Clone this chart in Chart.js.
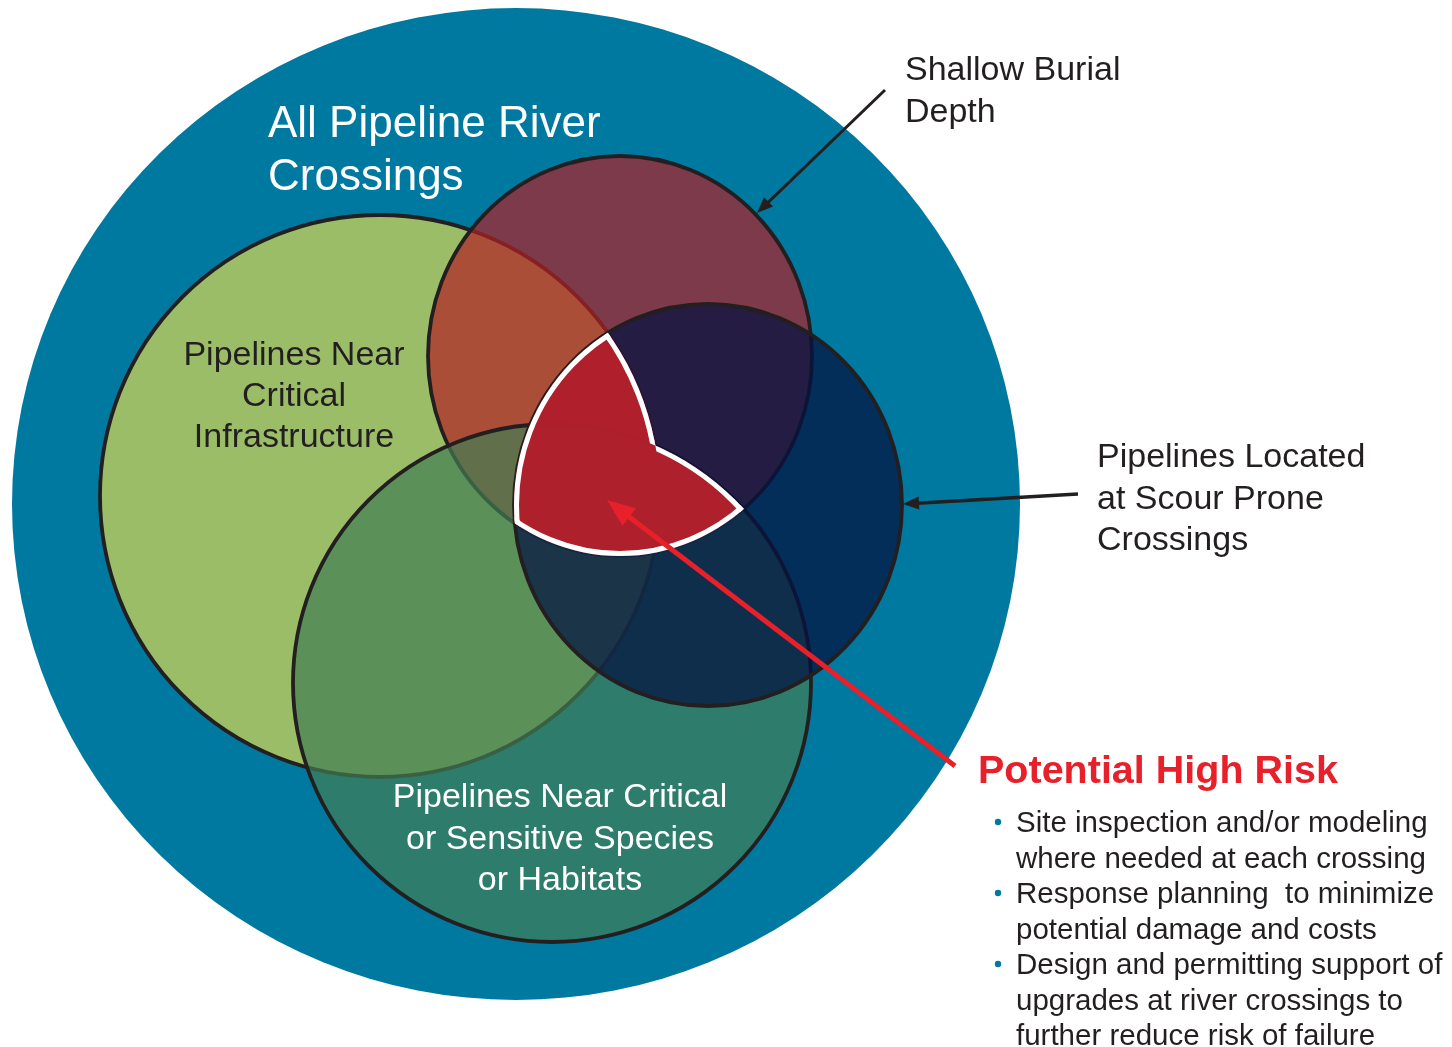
<!DOCTYPE html>
<html>
<head>
<meta charset="utf-8">
<script src="https://cdn.jsdelivr.net/npm/chart.js@4.4.1/dist/chart.umd.min.js"></script>
<style>
  html, body { margin: 0; padding: 0; background: #ffffff; }
  canvas { display: block; }
</style>
</head>
<body>
<canvas id="vennChart" width="1452" height="1047"></canvas>
<script>
// Set names (drawing order: outer set first)
const setNames = [
    'All Pipeline River Crossings',
    'Pipelines Near Critical Infrastructure',
    'Shallow Burial Depth',
    'Pipelines Near Critical or Sensitive Species or Habitats',
    'Pipelines Located at Scour Prone Crossings'
];
// Ellipse centres and radii, in chart units
const centerX = [516, 380, 620, 552, 708];
const centerY = [504, 496, 356, 683, 505];
const radiusX = [504, 280, 192, 259, 194];
const radiusY = [496, 281, 200, 259, 201];

// Callout arrows: [fromX, fromY, toX, toY]
const shallowArrow = [885, 90, 757, 213];
const scourArrow = [1078, 494, 903, 504];
const riskArrow = [955, 766, 607, 500];

const riskBullets = [
    ['Site inspection and/or modeling', 'where needed at each crossing'],
    ['Response planning  to minimize', 'potential damage and costs'],
    ['Design and permitting support of', 'upgrades at river crossings to', 'further reduce risk of failure']
];

const fillColors = ['#0079A0', '#9CBD67', 'rgba(178,31,37,0.7)', 'rgba(66,126,84,0.7)', 'rgba(4,18,64,0.73)'];
const edgeColor = '#231F20';
const FONT = '"Liberation Sans", Arial, sans-serif';

// Ellipse in pixel space, via the chart scales
function shape(chart, i) {
    const xs = chart.scales.x, ys = chart.scales.y;
    const cx = xs.getPixelForValue(centerX[i]);
    const cy = ys.getPixelForValue(centerY[i]);
    return {
        cx: cx,
        cy: cy,
        rx: Math.abs(xs.getPixelForValue(centerX[i] + radiusX[i]) - cx),
        ry: Math.abs(ys.getPixelForValue(centerY[i] + radiusY[i]) - cy)
    };
}

function addEllipse(ctx, s) {
    ctx.moveTo(s.cx + s.rx, s.cy);
    ctx.ellipse(s.cx, s.cy, s.rx, s.ry, 0, 0, Math.PI * 2);
}

function clipRisk(ctx, chart) {
    // shallow ∩ scour ∩ (infrastructure ∪ species)
    ctx.beginPath(); addEllipse(ctx, shape(chart, 4)); ctx.clip();
    ctx.beginPath(); addEllipse(ctx, shape(chart, 2)); ctx.clip();
    ctx.beginPath(); addEllipse(ctx, shape(chart, 1)); addEllipse(ctx, shape(chart, 3)); ctx.clip();
}

function clipOutside(ctx, chart, i) {
    ctx.beginPath();
    ctx.rect(0, 0, chart.width, chart.height);
    addEllipse(ctx, shape(chart, i));
    ctx.clip('evenodd');
}

function arrow(ctx, chart, a, color, width, headLen, headW) {
    const xs = chart.scales.x, ys = chart.scales.y;
    const x1 = xs.getPixelForValue(a[0]), y1 = ys.getPixelForValue(a[1]);
    const x2 = xs.getPixelForValue(a[2]), y2 = ys.getPixelForValue(a[3]);
    const ang = Math.atan2(y2 - y1, x2 - x1);
    const bx = x2 - Math.cos(ang) * headLen, by = y2 - Math.sin(ang) * headLen;
    ctx.save();
    ctx.strokeStyle = color;
    ctx.fillStyle = color;
    ctx.lineWidth = width;
    ctx.beginPath();
    ctx.moveTo(x1, y1);
    ctx.lineTo(bx + Math.cos(ang) * 2, by + Math.sin(ang) * 2);
    ctx.stroke();
    ctx.beginPath();
    ctx.moveTo(x2, y2);
    ctx.lineTo(bx + Math.sin(ang) * headW / 2, by - Math.cos(ang) * headW / 2);
    ctx.lineTo(bx - Math.sin(ang) * headW / 2, by + Math.cos(ang) * headW / 2);
    ctx.closePath();
    ctx.fill();
    ctx.restore();
}

function lines(ctx, list, x, y0, step, align) {
    ctx.textAlign = align;
    list.forEach((t, i) => ctx.fillText(t, x, y0 + i * step));
}

const vennPlugin = {
    id: 'venn',
    beforeDatasetsDraw(chart) {
        const ctx = chart.ctx;
        ctx.save();
        for (let i = 0; i < setNames.length; i++) {
            const s = shape(chart, i);
            ctx.beginPath();
            addEllipse(ctx, s);
            ctx.fillStyle = fillColors[i];
            ctx.fill();
            if (i > 0) {
                ctx.lineWidth = 3.8;
                ctx.strokeStyle = edgeColor;
                ctx.stroke();
            }
        }
        ctx.restore();

        // Potential high risk zone
        ctx.save();
        clipRisk(ctx, chart);
        ctx.fillStyle = 'rgba(180,32,44,0.96)';
        ctx.fillRect(0, 0, chart.width, chart.height);
        ctx.restore();

        ctx.lineWidth = 10;
        ctx.strokeStyle = '#ffffff';
        [[4, null], [2, null], [1, 3], [3, 1]].forEach(([edge, outside]) => {
            ctx.save();
            clipRisk(ctx, chart);
            if (outside !== null) clipOutside(ctx, chart, outside);
            ctx.beginPath();
            addEllipse(ctx, shape(chart, edge));
            ctx.stroke();
            ctx.restore();
        });
    },
    afterDatasetsDraw(chart) {
        const ctx = chart.ctx;
        ctx.save();
        ctx.textBaseline = 'alphabetic';

        ctx.fillStyle = '#ffffff';
        ctx.font = '44px ' + FONT;
        lines(ctx, ['All Pipeline River', 'Crossings'], 268, 137, 53, 'left');

        ctx.fillStyle = edgeColor;
        ctx.font = '34px ' + FONT;
        lines(ctx, ['Pipelines Near', 'Critical', 'Infrastructure'], 294, 365, 41, 'center');

        ctx.fillStyle = '#ffffff';
        lines(ctx, ['Pipelines Near Critical', 'or Sensitive Species', 'or Habitats'], 560, 807, 41.5, 'center');

        ctx.fillStyle = edgeColor;
        lines(ctx, ['Shallow Burial', 'Depth'], 905, 80, 42, 'left');
        lines(ctx, ['Pipelines Located', 'at Scour Prone', 'Crossings'], 1097, 467, 41.5, 'left');

        arrow(ctx, chart, shallowArrow, edgeColor, 3, 16, 13);
        arrow(ctx, chart, scourArrow, edgeColor, 3.5, 16, 13);
        arrow(ctx, chart, riskArrow, '#E8202A', 5, 28, 22);

        ctx.fillStyle = '#E8202A';
        ctx.font = 'bold 39.5px ' + FONT;
        ctx.textAlign = 'left';
        ctx.fillText('Potential High Risk', 978, 783);

        ctx.font = '29.5px ' + FONT;
        let y = 832;
        riskBullets.forEach(item => {
            ctx.fillStyle = '#0079A0';
            ctx.beginPath();
            ctx.arc(998, y - 10, 3.2, 0, Math.PI * 2);
            ctx.fill();
            ctx.fillStyle = edgeColor;
            item.forEach(t => {
                ctx.fillText(t, 1016, y);
                y += 35.5;
            });
        });
        ctx.restore();
    }
};

new Chart(document.getElementById('vennChart'), {
    type: 'scatter',
    data: {
        datasets: [{
            label: 'Set centres',
            data: centerX.map((cx, i) => ({ x: cx, y: centerY[i] })),
            pointRadius: 0
        }]
    },
    options: {
        responsive: false,
        animation: false,
        events: [],
        layout: { padding: 0 },
        scales: {
            x: { type: 'linear', min: 0, max: 1452, display: false },
            y: { type: 'linear', min: 0, max: 1047, reverse: true, display: false }
        },
        plugins: {
            legend: { display: false },
            tooltip: { enabled: false }
        }
    },
    plugins: [vennPlugin]
});
</script>
</body>
</html>
